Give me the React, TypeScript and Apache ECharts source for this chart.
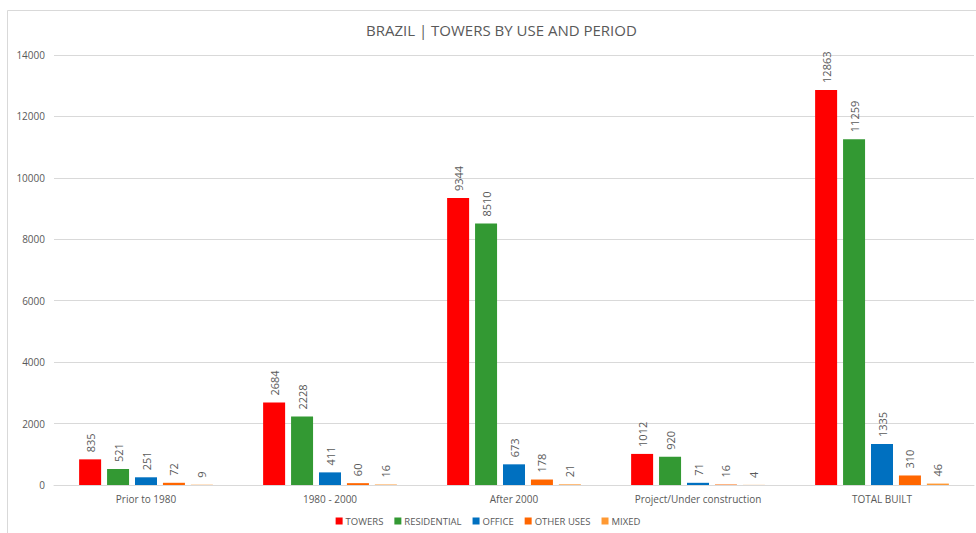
import React, { useEffect, useRef } from "react";
import * as echarts from "echarts";

const categories = ["Prior to 1980", "1980 - 2000", "After 2000", "Project/Under construction", "TOTAL BUILT"];
const towers = [835, 2684, 9344, 1012, 12863];
const residential = [521, 2228, 8510, 920, 11259];
const office = [251, 411, 673, 71, 1335];
const otherUses = [72, 60, 178, 16, 310];
const mixed = [9, 16, 21, 4, 46];
const seriesNames = ["TOWERS", "RESIDENTIAL", "OFFICE", "OTHER USES", "MIXED"];
const seriesColors = ["#FF0000", "#339933", "#0070C0", "#FF6600", "#FF9933"];
const yTicks = { min: 0, max: 14000, interval: 2000 };

const FONT = "'Open Sans', 'Liberation Sans', sans-serif";
const TXT = "#595959";

export default function App() {
  const ref = useRef<HTMLDivElement>(null);
  useEffect(() => {
    if (!ref.current) return;
    const chart = echarts.init(ref.current, null, { renderer: "svg" });
    const dataSets = [towers, residential, office, otherUses, mixed];
    chart.setOption({
      animation: false,
      backgroundColor: "#ffffff",
      textStyle: { fontFamily: FONT },
      title: {
        text: "BRAZIL | TOWERS BY USE AND PERIOD",
        left: 361,
        top: 17,
        textStyle: { fontFamily: FONT, fontSize: 15, fontWeight: "normal", color: TXT },
      },
      legend: {
        bottom: 2,
        left: "center",
        itemWidth: 7,
        itemHeight: 7,
        itemGap: 11,
        icon: "rect",
        textStyle: { fontFamily: FONT, fontSize: 9.5, color: TXT, padding: [0, 0, 0, -2] },
        data: seriesNames,
      },
      graphic: [
        {
          type: "rect",
          shape: { x: 7.5, y: 10.5, width: 1200, height: 800 },
          style: { fill: "none", stroke: "#d9d9d9", lineWidth: 1 },
          silent: true,
        },
      ],
      grid: { left: 54, right: 2, top: 55, bottom: 48, containLabel: false },
      xAxis: {
        type: "category",
        data: categories,
        axisTick: { show: false },
        axisLine: { lineStyle: { color: "#d9d9d9" } },
        axisLabel: { fontFamily: FONT, fontSize: 10, color: TXT, margin: 9 },
      },
      yAxis: {
        type: "value",
        min: yTicks.min,
        max: yTicks.max,
        interval: yTicks.interval,
        axisLine: { show: false },
        axisTick: { show: false },
        splitLine: { lineStyle: { color: "#d9d9d9" } },
        axisLabel: { fontFamily: FONT, fontSize: 10, color: TXT, margin: 9, formatter: (v: number) => String(v) },
      },
      series: dataSets.map((d, i) => ({
        name: seriesNames[i],
        type: "bar",
        data: d,
        barWidth: 22,
        barGap: "27%",
        itemStyle: { color: seriesColors[i] },
        label: {
          show: true,
          position: "top",
          rotate: 90,
          align: "left",
          verticalAlign: "middle",
          distance: 7,
          fontFamily: FONT,
          fontSize: 11,
          color: TXT,
        },
      })),
    });
    return () => chart.dispose();
  }, []);
  return <div ref={ref} style={{ position: "fixed", left: 0, top: 0, width: 976, height: 533 }} />;
}
